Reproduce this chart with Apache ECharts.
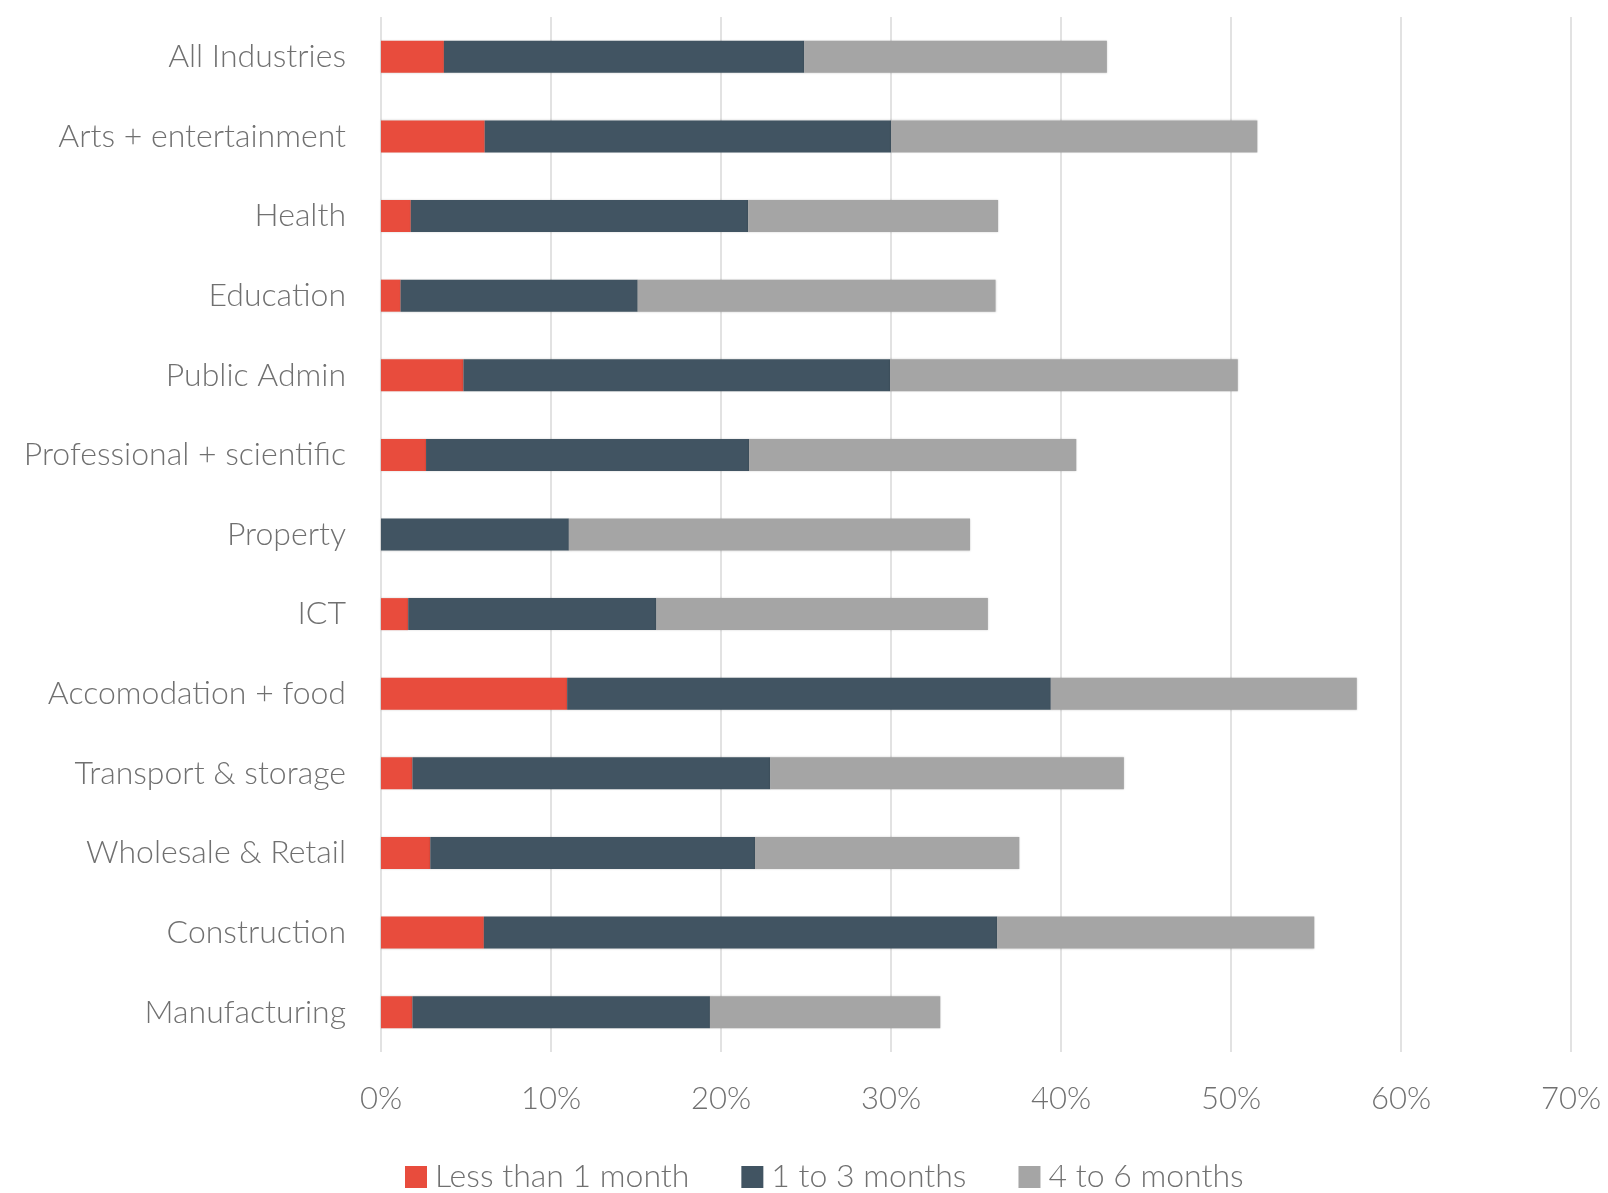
<!DOCTYPE html>
<html>
<head>
<meta charset="utf-8">
<script src="https://cdn.jsdelivr.net/npm/echarts@6/dist/echarts.min.js"></script>
<style>
html,body{margin:0;padding:0;background:#fff;}
#chart{width:1608px;height:1193px;}
</style>
</head>
<body>
<div id="chart"></div>
<script>
const categories = ["All Industries","Arts + entertainment","Health","Education","Public Admin","Professional + scientific","Property","ICT","Accomodation + food","Transport & storage","Wholesale & Retail","Construction","Manufacturing"];
const lessThan1Month = [3.7, 6.1, 1.75, 1.15, 4.85, 2.65, 0, 1.6, 10.95, 1.85, 2.9, 6.05, 1.85];
const oneTo3Months = [21.2, 23.9, 19.85, 13.95, 25.1, 19.0, 11.05, 14.6, 28.45, 21.05, 19.1, 30.2, 17.5];
const fourTo6Months = [17.8, 21.55, 14.7, 21.05, 20.45, 19.25, 23.6, 19.5, 18.0, 20.8, 15.55, 18.65, 13.55];
const seriesNames = ["Less than 1 month","1 to 3 months","4 to 6 months"];
const xTicks = [0,10,20,30,40,50,60,70];

const colors = ["#E84C3D","#415462","#A5A5A5"];
const fontFamily = "Lato, 'Noto Sans', sans-serif";
const textColor = '#707070';
const chart = echarts.init(document.getElementById('chart'), null, {renderer:'canvas'});
const mk = (name, data, i) => ({
  name: name, type: 'bar', stack: 'total', data: data, barWidth: 32,
  itemStyle: {color: colors[i], shadowBlur: 2, shadowColor: 'rgba(0,0,0,0.18)'},
  emphasis: {disabled: true}
});
chart.setOption({
  animation: false,
  backgroundColor: '#ffffff',
  grid: {left: 381, right: 37, top: 17, bottom: 141, containLabel: false},
  xAxis: {
    type: 'value', min: xTicks[0], max: xTicks[xTicks.length-1], interval: 10,
    axisLine: {show: false}, axisTick: {show: false},
    splitLine: {show: true, lineStyle: {color: '#D9D9D9', width: 1.5}},
    axisLabel: {formatter: '{value}%', margin: 31, color: textColor, fontSize: 31, fontFamily: fontFamily, fontWeight: 300}
  },
  yAxis: {
    type: 'category', data: categories, inverse: true,
    axisLine: {show: false}, axisTick: {show: false},
    axisLabel: {margin: 35, color: textColor, fontSize: 32, fontFamily: fontFamily, fontWeight: 300}
  },
  legend: {
    data: seriesNames, left: 405, top: 1160, padding: 0, icon: 'rect', itemWidth: 22, itemHeight: 22, itemGap: 52,
    textStyle: {color: textColor, fontSize: 32, lineHeight: 34, fontFamily: fontFamily, fontWeight: 300, padding: [0,0,0,3]}
  },
  series: [
    mk(seriesNames[0], lessThan1Month, 0),
    mk(seriesNames[1], oneTo3Months, 1),
    mk(seriesNames[2], fourTo6Months, 2)
  ]
});
</script>
</body>
</html>
